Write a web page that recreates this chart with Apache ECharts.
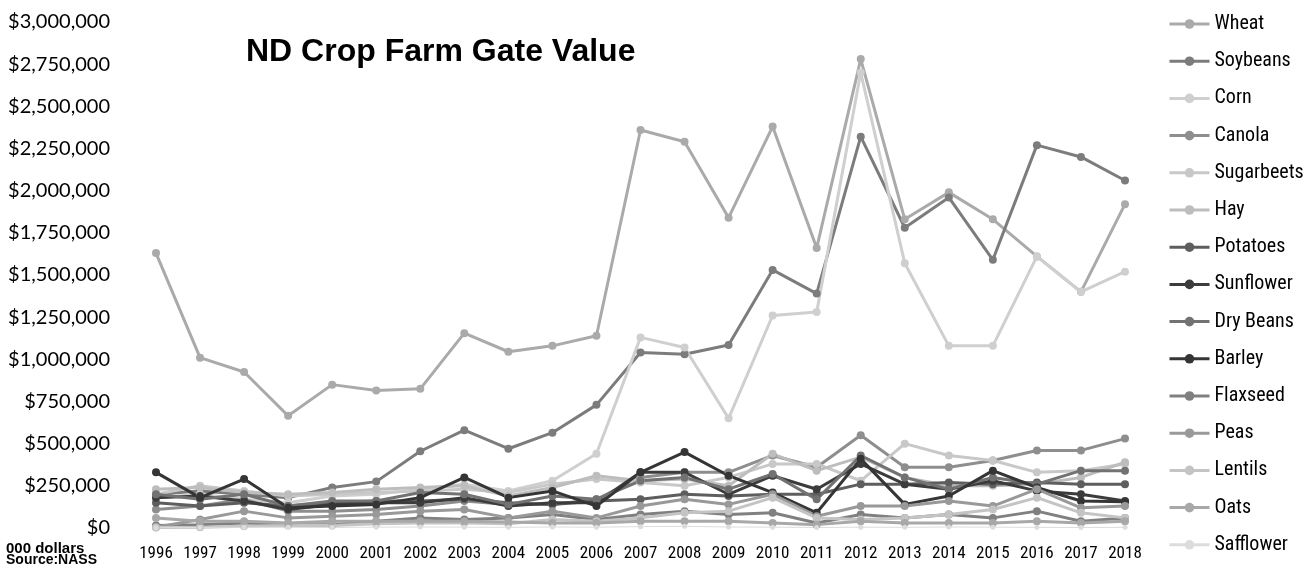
<!DOCTYPE html>
<html>
<head>
<meta charset="utf-8">
<script src="https://cdn.jsdelivr.net/npm/echarts@6/dist/echarts.min.js"></script>
<style>
  html, body { margin: 0; padding: 0; background: #fff; }
  #chart { width: 1315px; height: 574px; }
</style>
</head>
<body>
<div id="chart"></div>
<script>
// values in 000 dollars
const years = ['1996', '1997', '1998', '1999', '2000', '2001', '2002', '2003', '2004', '2005', '2006', '2007',
    '2008', '2009', '2010', '2011', '2012', '2013', '2014', '2015', '2016', '2017', '2018'];

const wheat = [1630, 1010, 925, 665, 850, 815, 825, 1155, 1045, 1080, 1140, 2360, 2290, 1840, 2380, 1660, 2780, 1830, 1990, 1830, 1610, 1400, 1920];
const soybeans = [200, 220, 200, 180, 240, 275, 455, 580, 470, 565, 730, 1040, 1030, 1085, 1530, 1390, 2320, 1780, 1960, 1590, 2270, 2200, 2060];
const corn = [180, 200, 170, 150, 190, 200, 230, 260, 220, 280, 440, 1130, 1070, 650, 1260, 1280, 2700, 1570, 1080, 1080, 1610, 1400, 1520];
const canola = [110, 130, 170, 100, 100, 110, 130, 160, 140, 140, 170, 300, 330, 330, 430, 360, 550, 360, 360, 400, 460, 460, 530];
const sugarbeets = [200, 250, 220, 190, 200, 210, 220, 230, 210, 260, 290, 270, 250, 300, 380, 380, 280, 500, 430, 400, 330, 340, 380];
const hay = [230, 240, 210, 200, 210, 230, 240, 250, 190, 240, 310, 280, 290, 250, 440, 340, 420, 300, 250, 250, 260, 300, 390];
const potatoes = [150, 130, 150, 130, 150, 160, 160, 170, 150, 140, 160, 170, 200, 190, 200, 200, 260, 260, 270, 260, 270, 260, 260];
const sunflower = [180, 190, 160, 110, 140, 150, 150, 180, 130, 150, 150, 330, 330, 200, 310, 230, 380, 260, 230, 280, 220, 200, 160];
const dryBeans = [200, 170, 200, 130, 160, 160, 210, 200, 140, 190, 170, 280, 300, 230, 320, 170, 430, 300, 230, 300, 260, 340, 340];
const barley = [330, 180, 290, 120, 130, 140, 180, 300, 180, 220, 130, 330, 450, 310, 210, 90, 410, 140, 190, 340, 240, 160, 155];
const flaxseed = [15, 20, 30, 20, 20, 40, 60, 50, 60, 80, 50, 80, 100, 80, 90, 30, 80, 60, 80, 60, 100, 40, 60];
const peas = [5, 50, 100, 60, 70, 80, 100, 110, 60, 100, 60, 130, 170, 140, 200, 70, 130, 130, 160, 130, 230, 120, 130];
const lentils = [3, 5, 10, 15, 15, 25, 30, 30, 25, 50, 40, 60, 90, 100, 180, 60, 50, 60, 80, 110, 180, 90, 60];
const oats = [60, 40, 40, 30, 40, 40, 40, 40, 35, 30, 30, 40, 40, 40, 30, 20, 40, 30, 30, 30, 40, 30, 40];
const safflower = [2, 3, 5, 4, 3, 5, 6, 5, 4, 6, 5, 8, 10, 6, 5, 3, 5, 4, 6, 5, 4, 3, 4];

const crops = [
    {name: 'Wheat', data: wheat, color: '#aaaaaa'},
    {name: 'Soybeans', data: soybeans, color: '#7c7c7c'},
    {name: 'Corn', data: corn, color: '#cfcfcf'},
    {name: 'Canola', data: canola, color: '#8e8e8e'},
    {name: 'Sugarbeets', data: sugarbeets, color: '#c8c8c8'},
    {name: 'Hay', data: hay, color: '#bdbdbd'},
    {name: 'Potatoes', data: potatoes, color: '#5e5e5e'},
    {name: 'Sunflower', data: sunflower, color: '#3c3c3c'},
    {name: 'Dry Beans', data: dryBeans, color: '#727272'},
    {name: 'Barley', data: barley, color: '#353535'},
    {name: 'Flaxseed', data: flaxseed, color: '#808080'},
    {name: 'Peas', data: peas, color: '#999999'},
    {name: 'Lentils', data: lentils, color: '#c4c4c4'},
    {name: 'Oats', data: oats, color: '#a8a8a8'},
    {name: 'Safflower', data: safflower, color: '#dcdcdc'},
];

const narrow = "'Liberation Sans Narrow', 'Arial Narrow', 'Roboto Condensed', 'Liberation Sans', Arial, sans-serif";

const chart = echarts.init(document.getElementById('chart'));
chart.setOption({
    animation: false,
    backgroundColor: '#fff',
    title: {
        text: 'ND Crop Farm Gate Value',
        left: 241,
        top: 31,
        textStyle: {fontFamily: "'Liberation Sans', Arial, sans-serif", fontWeight: 'bold', fontSize: 32, color: '#000'},
    },
    legend: {
        orient: 'vertical',
        left: 1163,
        top: 9,
        itemWidth: 40,
        itemHeight: 12,
        itemGap: 17.2,
        lineStyle: {width: 3},
        textStyle: {fontFamily: narrow, fontSize: 20, color: '#000', lineHeight: 20},
        data: crops.map((c) => c.name),
    },
    grid: {left: 156, right: 190, top: 22, bottom: 46},
    xAxis: {
        type: 'category',
        data: years,
        boundaryGap: false,
        axisLine: {show: false},
        axisTick: {show: false},
        axisLabel: {fontFamily: narrow, fontSize: 17, color: '#000', margin: 17},
    },
    yAxis: {
        type: 'value',
        min: 0,
        max: 3000000,
        interval: 250000,
        splitLine: {show: false},
        axisLine: {show: false},
        axisLabel: {
            fontFamily: "Lato, 'Open Sans', sans-serif",
            fontSize: 20,
            color: '#000',
            margin: 46,
            formatter: (v) => '$' + v.toLocaleString('en-US'),
        },
    },
    graphic: [
        {type: 'text', left: 6, top: 541, style: {text: '000 dollars', fontFamily: "'Liberation Sans', Arial", fontWeight: 'bold', fontSize: 15, fill: '#000'}},
        {type: 'text', left: 6, top: 553, style: {text: 'Source:NASS', fontFamily: "'Liberation Sans', Arial", fontWeight: 'bold', fontSize: 14, fill: '#000'}},
    ],
    series: crops.map((c) => ({
        name: c.name,
        type: 'line',
        data: c.data.map((v) => v * 1000),
        symbol: 'circle',
        symbolSize: c.name === 'Safflower' ? 5 : 8,
        color: c.color,
        lineStyle: {width: c.name === 'Safflower' ? 1 : 3, color: c.color},
        itemStyle: {color: c.color},
    })),
});
</script>
</body>
</html>
